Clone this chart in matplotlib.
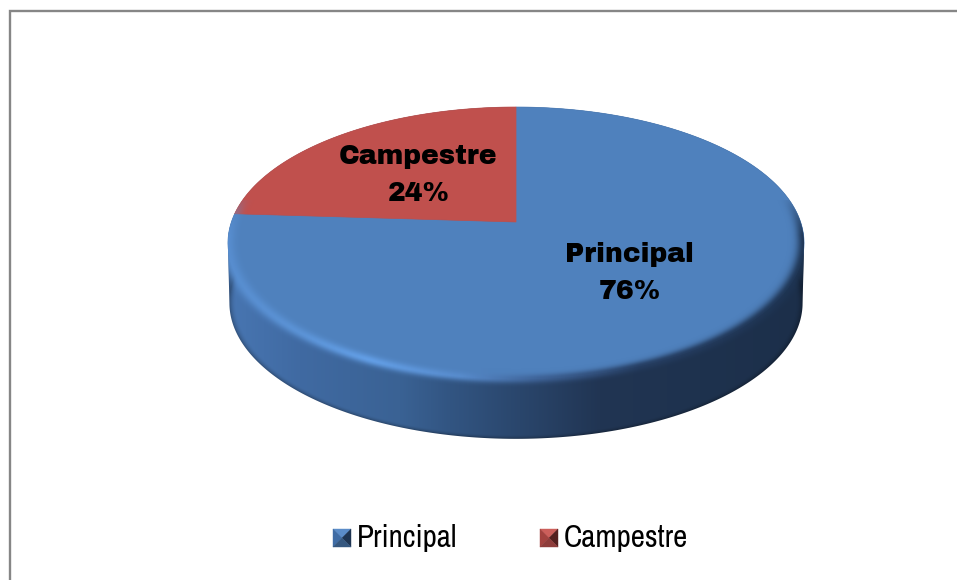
import numpy as np
import matplotlib
matplotlib.use("Agg")
import matplotlib.pyplot as plt
from matplotlib.patches import Polygon

categorias = ["Principal", "Campestre"]
percentagens = [76, 24]
cores = ["#4F81BD", "#C0504D"]

# Legenda: cor do topo, esquerda, direita e base do quadrado
cores_legenda = [
    ["#5B8CC8", "#3F6CA5", "#1F3552", "#35577F"],
    ["#CC5F5B", "#A3423F", "#54201F", "#8E3C3A"],
]

# Projecao do disco (pixels)
cx, cy = 516, 222
raio = 284.6
c = 0.154
a = -98.5
altura = 60


def projeta(u, v, dy=0, esc=1.0):
    d = 1 + c * v
    return cx + esc * raio * u / d, (a * v + cy) / d + dy


fig = plt.figure(figsize=(9.57, 5.8), dpi=100)
ax = fig.add_axes([0, 0, 1, 1])
ax.set_xlim(0, 957)
ax.set_ylim(580, 0)
ax.axis("off")

# Moldura (so esquerda e topo sao visiveis)
ax.plot([10, 10, 957], [580, 11, 11], color="#868686", linewidth=1.7, solid_joinstyle="miter")

# Lateral do disco com gradiente horizontal
t1 = np.radians(np.linspace(-9, 189, 200))
t2 = np.radians(np.linspace(189, 351, 200))
x1, y1 = projeta(np.cos(t1), np.sin(t1))
x2, y2 = projeta(np.cos(t2), np.sin(t2), dy=altura, esc=0.995)
contorno = np.column_stack([np.r_[x1, x2], np.r_[y1, y2]])

xx, yy = np.meshgrid(np.arange(957) + 0.5, np.arange(580) + 0.5)
pos_x = [228, 300, 400, 450, 520, 600, 700, 805]
r_lat = [72, 64, 58, 50, 42, 33, 30, 28]
g_lat = [118, 106, 98, 85, 70, 53, 50, 47]
b_lat = [178, 162, 148, 130, 108, 83, 78, 74]
lateral = np.dstack([np.interp(xx, pos_x, r_lat), np.interp(xx, pos_x, g_lat), np.interp(xx, pos_x, b_lat)]) / 255

# Escurece um pouco junto a aresta inferior
vv2 = (yy - altura - cy) / (a - c * (yy - altura))
uu2 = (xx - cx) * (1 + c * vv2) / (raio * 0.995)
rho2 = np.sqrt(uu2 ** 2 + vv2 ** 2)
sombra = 1 - 0.3 * np.clip((rho2 - 0.975) / 0.025, 0, 1) ** 2
lateral = lateral * sombra[..., None]

im = ax.imshow(lateral, extent=(0, 957, 580, 0), origin="upper", aspect="auto", zorder=1, interpolation="nearest")
im.set_clip_path(Polygon(contorno, closed=True, transform=ax.transData))

# Fatias a partir das percentagens
inicio = 90.0
for pct, cor in zip(percentagens, cores):
    fim = inicio - pct * 3.6
    t = np.radians(np.linspace(inicio, fim, 300))
    x, y = projeta(np.cos(t), np.sin(t))
    ax.fill(np.r_[cx, x], np.r_[cy, y], color=cor, linewidth=0.5, zorder=2)
    inicio = fim

# Bisel na aresta do topo
vv = (yy - cy) / (a - c * yy)
uu = (xx - cx) * (1 + c * vv) / raio
rho = np.sqrt(uu ** 2 + vv ** 2)
pos_b = [225, 300, 370, 460, 540, 640, 805]
r_b = [88, 92, 100, 88, 62, 38, 30]
g_b = [142, 148, 160, 140, 98, 62, 52]
b_b = [208, 215, 232, 205, 150, 98, 82]
cor_b = np.dstack([np.interp(xx, pos_b, r_b), np.interp(xx, pos_b, g_b), np.interp(xx, pos_b, b_b)]) / 255
largura = 0.024
forca = np.exp(-((rho - 1.0) / largura) ** 2) * np.clip((0.2 - vv) / 0.3, 0, 1)
forca = forca * (yy > 200)
rgba = np.dstack([cor_b, np.clip(forca, 0, 1) * 0.95])
im2 = ax.imshow(rgba, extent=(0, 957, 580, 0), origin="upper", aspect="auto", zorder=3, interpolation="nearest")
im2.set_clip_path(Polygon(contorno, closed=True, transform=ax.transData))
ax.set_xlim(0, 957)
ax.set_ylim(580, 0)

# Rotulos
pos_rotulos = [(629.5, 273), (418.5, 175)]
for cat, pct, (px, py) in zip(categorias, percentagens, pos_rotulos):
    ax.text(px, py, f"{cat}\n{pct}%", ha="center", va="center", fontsize=19.2,
            family=["Archivo Black", "DejaVu Sans"], color="black", linespacing=1.58, zorder=4)

# Legenda
leg_x = [333, 540]
txt_x = [357, 564]
lado = 18
topo = 529
for i, cat in enumerate(categorias):
    x0 = leg_x[i]
    meio = (x0 + lado / 2, topo + lado / 2)
    cantos = [(x0, topo), (x0 + lado, topo), (x0 + lado, topo + lado), (x0, topo + lado)]
    pares = [(0, 1), (3, 0), (1, 2), (2, 3)]
    for (p, q), cor in zip(pares, cores_legenda[i]):
        ax.fill([cantos[p][0], cantos[q][0], meio[0]], [cantos[p][1], cantos[q][1], meio[1]],
                color=cor, linewidth=0.3, zorder=4)
    ax.text(txt_x[i], 547, cat, ha="left", va="baseline", fontsize=22.4,
            family=["Archivo Narrow", "Liberation Sans"], color="black", zorder=4)

fig.savefig("out.png", dpi=100)
